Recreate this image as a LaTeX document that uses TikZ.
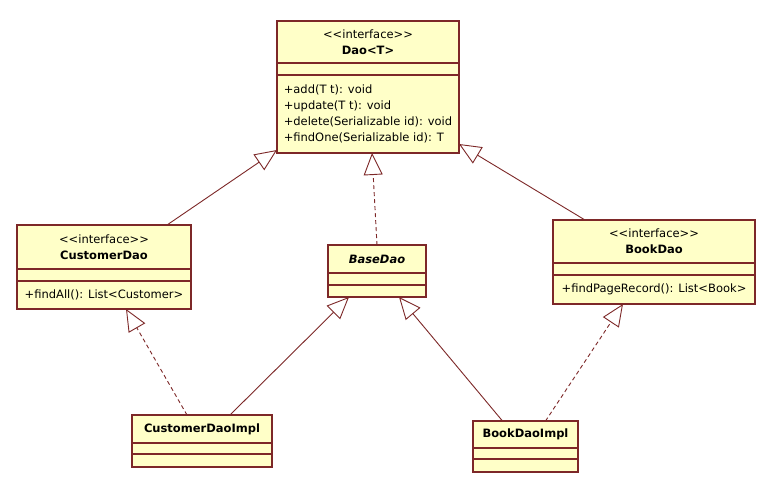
\documentclass[tikz,border=0pt]{standalone}
\usepackage{fontspec}
\setmainfont{DejaVu Sans}[Ligatures=TeXOff]
\usepackage{tikz}
\usetikzlibrary{positioning, arrows.meta}
\definecolor{umlfill}{RGB}{255,255,200}
\definecolor{umlline}{RGB}{125,40,40}

\begin{document}
\begin{tikzpicture}[x=1pt, y=-1pt,
					box/.style={draw=umlline, fill=umlfill, line width=1.2pt,
						inner sep=0pt, outer sep=0pt, align=center,
						font=\fontsize{11.5pt}{16pt}\selectfont},
					head/.style={box, anchor=north west},
					slot/.style={box, below=0pt of #1},
					ops/.style={box, align=left, below=0pt of #1},
					gen/.style={draw=umlline, line width=0.9pt,
						-{Triangle[open, length=22pt, width=19pt]}},
					real/.style={gen, dash pattern=on 4pt off 3pt}]

\path[use as bounding box, fill=white] (0,0) rectangle (764,486);

\node[head, minimum width=182pt, minimum height=42pt] (daoHead) at (277,21)
	{<<interface>>\\\textbf{Dao<T>}};
\node[slot=daoHead, minimum width=182pt, minimum height=12pt] (daoAttr) {};
\node[ops=daoAttr, minimum width=182pt, minimum height=78pt] (daoOps)
	{+add(T t): void\\+update(T t): void\\+delete(Serializable id): void\\+findOne(Serializable id): T};

\node[head, minimum width=174pt, minimum height=44pt] (custHead) at (17,225)
	{<<interface>>\\\textbf{CustomerDao}};
\node[slot=custHead, minimum width=174pt, minimum height=12pt] (custAttr) {};
\node[ops=custAttr, minimum width=174pt, minimum height=28pt] (custOps)
	{+findAll(): List<Customer>};

\node[head, minimum width=98pt, minimum height=28pt] (baseHead) at (328,245)
	{\textbf{\textit{BaseDao}}};
\node[slot=baseHead, minimum width=98pt, minimum height=12pt] (baseAttr) {};
\node[slot=baseAttr, minimum width=98pt, minimum height=12pt] (baseOps) {};

\node[head, minimum width=202pt, minimum height=43pt] (bookHead) at (553,220)
	{<<interface>>\\\textbf{BookDao}};
\node[slot=bookHead, minimum width=202pt, minimum height=12pt] (bookAttr) {};
\node[ops=bookAttr, minimum width=202pt, minimum height=29pt] (bookOps)
	{+findPageRecord(): List<Book>};

\node[head, minimum width=140pt, minimum height=28pt] (custImplHead) at (132,415)
	{\textbf{CustomerDaoImpl}};
\node[slot=custImplHead, minimum width=140pt, minimum height=11pt] (custImplAttr) {};
\node[slot=custImplAttr, minimum width=140pt, minimum height=13pt] (custImplOps) {};

\node[head, minimum width=105pt, minimum height=27pt] (bookImplHead) at (473,421)
	{\textbf{BookDaoImpl}};
\node[slot=bookImplHead, minimum width=105pt, minimum height=11pt] (bookImplAttr) {};
\node[slot=bookImplAttr, minimum width=105pt, minimum height=13pt] (bookImplOps) {};

\draw[gen] ([xshift=63pt]custHead.north) -- ([yshift=3pt]daoOps.south west);
\draw[real] (baseHead.north) -- ([xshift=4pt]daoOps.south);
\draw[gen] ([xshift=-69pt]bookHead.north) -- ([yshift=9pt]daoOps.south east);
\draw[real] ([xshift=-15pt]custImplHead.north) -- ([xshift=22pt]custOps.south);
\draw[gen] ([xshift=28pt]custImplHead.north) -- ([xshift=-28pt]baseOps.south);
\draw[gen] ([xshift=-23pt]bookImplHead.north) -- ([xshift=22pt]baseOps.south);
\draw[real] ([xshift=20pt]bookImplHead.north) -- ([xshift=-31pt]bookOps.south);
\end{tikzpicture}
\end{document}
